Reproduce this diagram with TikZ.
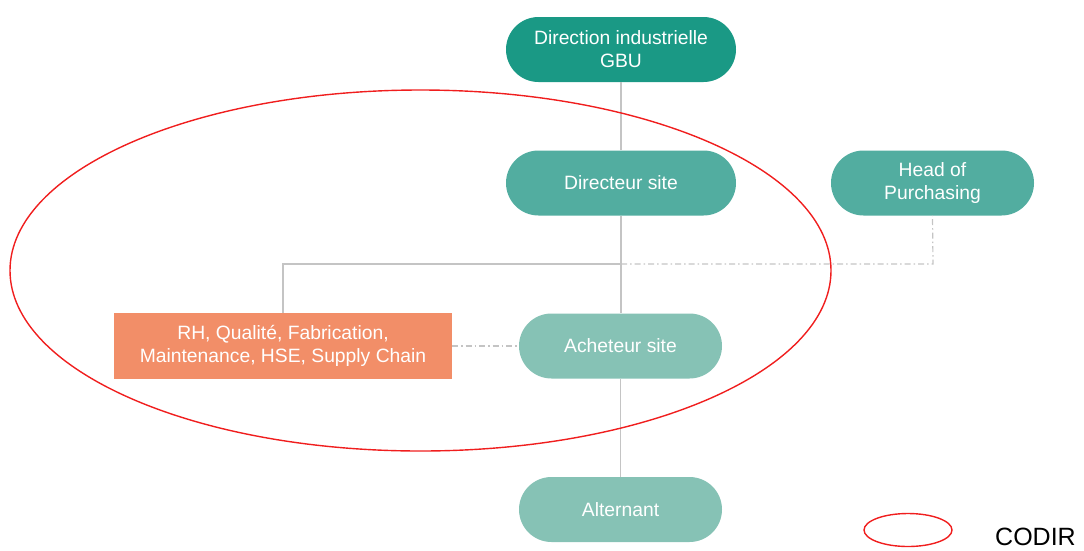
\documentclass[tikz,border=0pt]{standalone}
\usepackage{fontspec}
\setmainfont{Liberation Sans}
\usetikzlibrary{shapes.misc}
\definecolor{cTop}{HTML}{1A9985}
\definecolor{cMid}{HTML}{52ADA0}
\definecolor{cLow}{HTML}{86C2B5}
\definecolor{cOrg}{HTML}{F28E68}
\definecolor{cLine}{HTML}{C4C4C4}
\definecolor{cRed}{HTML}{F01E1E}
\tikzset{
  pill/.style={rounded rectangle, minimum width=#1, minimum height=65pt, inner sep=0pt, text=white,
    font=\fontsize{19.3}{23}\selectfont, align=center},
  boxorg/.style={fill=cOrg, draw=none, minimum width=338pt, minimum height=66pt, inner sep=0pt, text=white,
    font=\fontsize{19.3}{23}\selectfont, align=center},
  solidln/.style={draw=cLine, line width=1.4pt},
  dashln/.style={draw=cLine, line width=1.2pt, dash pattern=on 6pt off 3pt on 1.5pt off 3pt},
  codir/.style={draw=cRed, line width=1.4pt}
}
\begin{document}
\begin{tikzpicture}[x=1pt,y=-1pt]
\useasboundingbox (0,0) rectangle (1084,550);
\coordinate (J) at (621,264);
\coordinate (JR) at (933,264);
\coordinate (JL) at (283,264);
\node[pill=230pt, fill=cTop] (gbu) at (621,49.5) {Direction industrielle\\GBU};
\node[pill=230pt, fill=cMid] (dir) at (621,183) {\raisebox{-1.5pt}{Directeur site}};
\node[pill=203pt, fill=cMid] (head) at (932.5,183) {Head of\\Purchasing};
\node[boxorg] (rh) at (283,346) {RH, Qualité, Fabrication,\\Maintenance, HSE, Supply Chain};
\node[pill=203pt, fill=cLow] (ach) at (620.5,346) {Acheteur site};
\node[pill=203pt, fill=cLow] (alt) at (620.5,509.5) {Alternant};
\draw[solidln] (gbu.south) -- (dir.north);
\draw[solidln] (dir.south) -- (ach.north -| dir.south);
\draw[solidln] (J) -- (JL) -- (rh.north);
\draw[dashln] (J) -- (JR) -- (head.south);
\draw[dashln] (rh.east) -- (ach.west);
\draw[solidln] (ach.south) -- (alt.north);
\draw[codir] (420.5,270.5) ellipse [x radius=410.5, y radius=180.5];
\node[draw=none, inner sep=0pt] (legend) at (908,530) {};
\draw[codir] (legend) ellipse [x radius=44, y radius=16.5];
\node[anchor=west, inner sep=0pt, font=\fontsize{25}{29}\selectfont, text=black] (codirlbl) at (995,537) {CODIR};
\end{tikzpicture}
\end{document}
